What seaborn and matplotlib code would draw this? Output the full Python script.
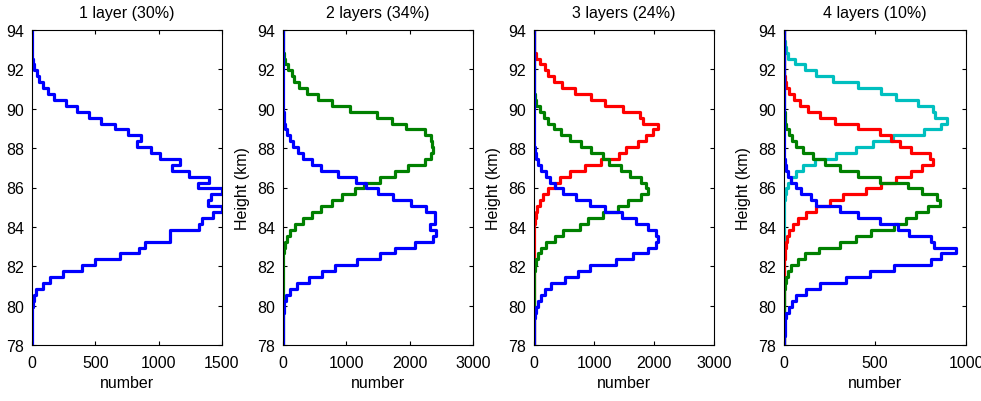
import numpy as np
import pandas as pd
import matplotlib
matplotlib.use("Agg")
import matplotlib.pyplot as plt
import seaborn as sns

# height bins (km): 0.3 km wide, centred on 78.0, 78.3, ... 93.9
bin_edges = [round(77.85 + 0.3 * k, 2) for k in range(55)]
bin_centers = [round(78.0 + 0.3 * k, 2) for k in range(54)]

# counts per bin, bottom (78.0 km) to top (93.9 km)
p1_blue = [0, 0, 1, 1, 1, 2, 3, 6, 13, 32,
           84, 145, 243, 396, 494, 697, 845, 890, 1088, 1088,
           1320, 1340, 1430, 1500, 1391, 1412, 1500, 1312, 1399, 1241,
           1106, 1167, 1008, 943, 832, 863, 758, 657, 541, 449,
           356, 269, 177, 129, 84, 58, 40, 18, 10, 0,
           0, 0, 0, 0]

p2_blue = [1, 1, 1, 2, 3, 5, 10, 21, 42, 110,
           215, 410, 609, 819, 1176, 1528, 1764, 2079, 2368, 2420,
           2315, 2400, 2394, 2263, 2027, 1738, 1502, 1318, 1145, 872,
           599, 452, 320, 231, 163, 110, 58, 30, 18, 10,
           5, 2, 0, 0, 0, 0, 0, 0, 0, 0,
           0, 0, 0, 0]
p2_green = [0, 0, 0, 0, 0, 0, 0, 0, 0, 0,
            0, 0, 0, 0, 2, 5, 15, 31, 58, 110,
            189, 320, 452, 599, 767, 924, 1134, 1281, 1528, 1764,
            1974, 2236, 2331, 2368, 2352, 2331, 2237, 1937, 1722, 1490,
            1055, 767, 546, 373, 257, 178, 136, 73, 30, 10,
            3, 0, 0, 0]

p3_blue = [1, 1, 1, 1, 8, 15, 28, 67, 123, 178,
           289, 512, 734, 928, 1362, 1651, 1901, 2039, 2067, 2028,
           1901, 1706, 1473, 1178, 928, 706, 480, 350, 273, 206,
           123, 67, 28, 10, 3, 0, 0, 0, 0, 0,
           0, 0, 0, 0, 0, 0, 0, 0, 0, 0,
           0, 0, 0, 0]
p3_green = [0, 0, 0, 0, 0, 0, 0, 0, 0, 0,
            0, 0, 3, 10, 28, 67, 123, 206, 345, 484,
            762, 901, 1151, 1401, 1567, 1790, 1901, 1862, 1790, 1595,
            1456, 1251, 1151, 956, 789, 606, 456, 328, 234, 162,
            95, 40, 15, 5, 0, 0, 0, 0, 0, 0,
            0, 0, 0, 0]
p3_red = [0, 0, 0, 0, 0, 0, 0, 0, 0, 0,
          0, 0, 0, 0, 0, 0, 0, 0, 0, 0,
          5, 10, 28, 50, 95, 150, 234, 345, 439, 595,
          845, 1123, 1417, 1540, 1734, 1873, 1984, 2067, 1817, 1762,
          1484, 1178, 956, 678, 467, 328, 234, 178, 95, 28,
          8, 0, 0, 0]

p4_blue = [2, 2, 3, 5, 8, 13, 28, 46, 68, 123,
           199, 342, 470, 607, 808, 863, 945, 826, 808, 689,
           625, 525, 406, 305, 177, 150, 95, 68, 40, 22,
           9, 3, 0, 0, 0, 0, 0, 0, 0, 0,
           0, 0, 0, 0, 0, 0, 0, 0, 0, 0,
           0, 0, 0, 0]
p4_green = [0, 0, 0, 0, 0, 0, 0, 0, 0, 2,
            6, 13, 22, 40, 77, 113, 192, 305, 397, 479,
            607, 671, 725, 790, 855, 840, 760, 680, 525, 406,
            305, 223, 159, 104, 68, 46, 28, 13, 8, 3,
            0, 0, 0, 0, 0, 0, 0, 0, 0, 0,
            0, 0, 0, 0]
p4_red = [0, 0, 0, 0, 0, 0, 0, 0, 0, 0,
          0, 0, 0, 0, 0, 3, 6, 12, 17, 28,
          50, 77, 123, 177, 250, 324, 451, 534, 616, 700,
          760, 817, 800, 700, 636, 588, 525, 406, 278, 196,
          132, 86, 53, 28, 13, 5, 2, 0, 0, 0,
          0, 0, 0, 0]
p4_cyan = [0, 0, 0, 0, 0, 0, 0, 0, 0, 0,
           0, 0, 0, 0, 0, 0, 0, 0, 0, 0,
           0, 0, 0, 0, 0, 3, 10, 22, 40, 68,
           104, 168, 283, 397, 488, 598, 771, 863, 894, 831,
           820, 735, 616, 534, 406, 269, 174, 113, 59, 22,
           12, 6, 2, 0]

titles = ["1 layer (30%)", "2 layers (34%)", "3 layers (24%)", "4 layers (10%)"]
xmax = [1500, 3000, 3000, 1000]
xticks = [[0, 500, 1000, 1500], [0, 1000, 2000, 3000],
          [0, 1000, 2000, 3000], [0, 500, 1000]]

BLUE, GREEN, RED, CYAN = "#0000ff", "#008000", "#ff0000", "#00bfbf"

# drawn in this order, blue last so it sits on top
panels = [
    [(p1_blue, BLUE)],
    [(p2_green, GREEN), (p2_blue, BLUE)],
    [(p3_red, RED), (p3_green, GREEN), (p3_blue, BLUE)],
    [(p4_cyan, CYAN), (p4_red, RED), (p4_green, GREEN), (p4_blue, BLUE)],
]

sns.set_style("ticks", {"axes.edgecolor": "black", "text.color": "black",
                        "axes.labelcolor": "black", "xtick.color": "black",
                        "ytick.color": "black"})
plt.rcParams["font.family"] = ["Liberation Sans", "DejaVu Sans"]
FS = 11.5

W, H = 981, 402
fig = plt.figure(figsize=(W / 100, H / 100), dpi=100)

# axes boxes in pixels: (left, right), shared top/bottom
boxes = [(32, 222), (283, 473), (534, 714), (784, 966)]
top, bottom = 31, 346

for i, (l, r) in enumerate(boxes):
    ax = fig.add_axes([l / W, (H - bottom) / H, (r - l) / W, (bottom - top) / H])
    for counts, color in panels[i]:
        df = pd.DataFrame({"height": bin_centers, "count": counts})
        sns.histplot(data=df, y="height", weights="count", bins=bin_edges,
                     element="step", fill=False, color=color,
                     linewidth=2.3, ax=ax)
    ax.set_ylim(78, 94)
    ax.set_xlim(0, xmax[i])
    ax.set_yticks(range(78, 95, 2))
    ax.set_xticks(xticks[i])
    ax.tick_params(direction="in", top=True, right=True, length=3,
                   width=0.8, labelsize=FS)
    ax.tick_params(axis="x", pad=7.5)
    ax.tick_params(axis="y", pad=5.5)
    for s in ax.spines.values():
        s.set_linewidth(0.8)
        s.set_color("black")
    ax.set_title(titles[i], fontsize=FS, pad=9)
    ax.set_xlabel("number", fontsize=FS, labelpad=3)
    if i > 0:
        ax.set_ylabel("Height (km)", fontsize=FS, labelpad=5)
    else:
        ax.set_ylabel("")

fig.savefig("out.png", dpi=100)
